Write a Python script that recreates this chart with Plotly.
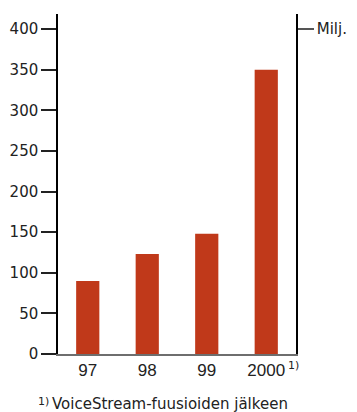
import plotly.graph_objects as go

categories = ["97", "98", "99", "2000"]
values = [90, 123, 148, 350]
ytick_vals = [0, 50, 100, 150, 200, 250, 300, 350, 400]
right_tick_vals = [400]
right_tick_text = ["Milj."]
footnote_mark = "1)"
footnote_text = "VoiceStream-fuusioiden jälkeen"

BAR_COLOR = "#C0391A"
FONT = "DejaVu Sans"
XFONT = "Liberation Sans"

# page body has an 8px margin; the figure is placed at (8, 8)
OFF = 8
PL, PR, PT, PB = 58, 296, 14, 354  # plot area in page pixels


def px(x):
    return (x - PL) / (PR - PL)


def py(y):
    return (PB - y) / (PB - PT)


fig = go.Figure()
fig.add_trace(go.Bar(x=categories, y=values, marker=dict(color=BAR_COLOR, line=dict(width=0)),
                     width=0.39, showlegend=False))
fig.add_trace(go.Scatter(x=[categories[0]], y=[0], yaxis="y2", mode="markers",
                         marker=dict(opacity=0), showlegend=False, hoverinfo="skip"))

fig.update_layout(
    width=357 - OFF, height=412 - OFF,
    margin=dict(l=PL - OFF, r=357 - PR, t=PT - OFF, b=412 - PB, autoexpand=False),
    paper_bgcolor="white", plot_bgcolor="white",
    font=dict(family=FONT, size=15, color="#222"),
    xaxis=dict(type="category", range=[-0.5, 3.5], showline=True, linecolor="#6e6e6e",
               linewidth=2, ticks="", showgrid=False, zeroline=False, automargin=False,
               tickfont=dict(size=17, family=XFONT, color="#222")),
    yaxis=dict(range=[0, 418.5], tickvals=ytick_vals, ticks="outside", ticklen=15,
               tickcolor="#222", tickwidth=1.5, showline=True, linecolor="black", linewidth=1.5,
               showgrid=False, zeroline=False, automargin=False,
               tickfont=dict(size=15, family=FONT, color="#222")),
    yaxis2=dict(overlaying="y", side="right", range=[0, 418.5], tickvals=right_tick_vals,
                ticktext=right_tick_text, ticks="outside", ticklen=16, tickcolor="#555",
                tickwidth=1.5, showline=True, linecolor="black", linewidth=1.5, showgrid=False,
                zeroline=False, automargin=False,
                tickfont=dict(size=15, family=FONT, color="#222")),
    annotations=[
        dict(text=footnote_mark, xref="paper", yref="paper", x=px(286), y=py(365),
             xanchor="left", yanchor="middle", showarrow=False,
             font=dict(size=11, family=FONT, color="#222")),
        dict(text=footnote_mark, xref="paper", yref="paper", x=px(36), y=py(401),
             xanchor="left", yanchor="middle", showarrow=False,
             font=dict(size=11, family=FONT, color="#222")),
        dict(text=footnote_text, xref="paper", yref="paper", x=px(50), y=py(404),
             xanchor="left", yanchor="middle", showarrow=False,
             font=dict(size=15, family=FONT, color="#222")),
    ],
)

fig.write_html("out.html")
